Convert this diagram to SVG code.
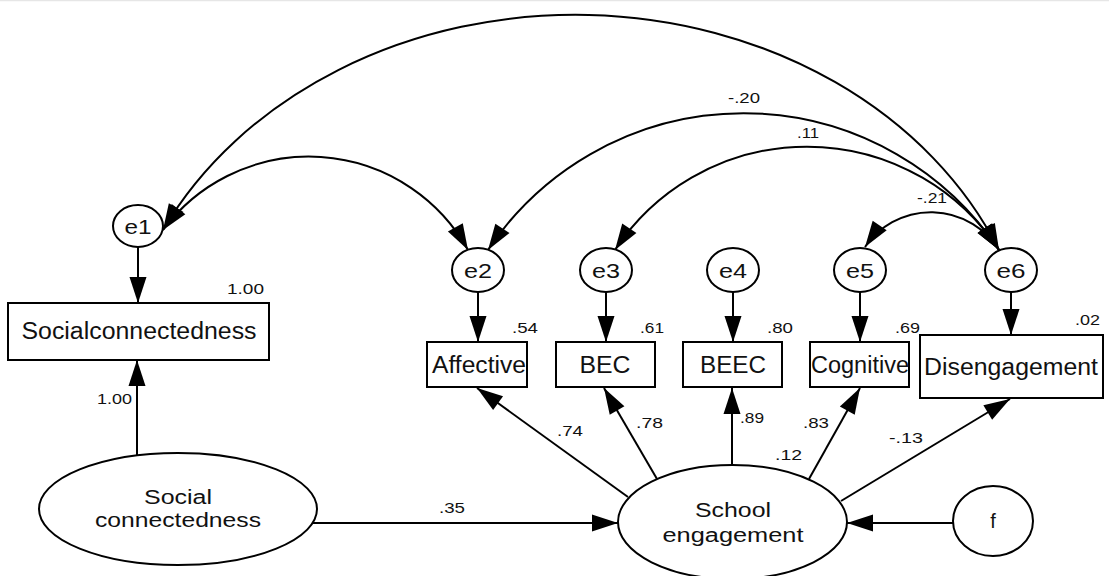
<svg xmlns="http://www.w3.org/2000/svg" width="1109" height="576" viewBox="0 0 1109 576">
  <defs>
    <marker id="arrow" markerUnits="userSpaceOnUse" markerWidth="26" markerHeight="17" refX="26" refY="8.5" orient="auto-start-reverse" overflow="visible">
      <path d="M0,0 L26,8.5 L0,17 Z" fill="#000"/>
    </marker>
    <style>
      .shape { fill: #fff; stroke: #000; stroke-width: 2; }
      .edge { fill: none; stroke: #000; stroke-width: 2; }
      .arr { marker-end: url(#arrow); }
      .both { marker-start: url(#arrow); marker-end: url(#arrow); }
      text { font-family: "Liberation Sans", Arial, sans-serif; fill: #111; }
      .big { font-size: 23px; text-anchor: middle; }
      .lat { font-size: 20px; text-anchor: middle; }
      .err { font-size: 21px; text-anchor: middle; }
      .num { font-size: 15.5px; }
    </style>
  </defs>
  <rect width="1109" height="576" fill="#fff"/>
  <line x1="0" y1="0.5" x2="1109" y2="0.5" stroke="#e6e6e6" stroke-width="1.5"/>

  <!-- connectors -->
  <g id="connectors">
    <!-- covariances -->
    <path class="edge both" d="M163,230 A460,386 0 0 1 999,250"/>
    <path class="edge both" d="M163,230 A182,182 0 0 1 468,250"/>
    <path class="edge both" d="M488,250 A307,307 0 0 1 999,250"/>
    <path class="edge both" d="M615,250 A230,230 0 0 1 999,250"/>
    <path class="edge both" d="M865,247 A80,80 0 0 1 999,250"/>
    <!-- error terms to indicators -->
    <line class="edge arr" x1="138" y1="247" x2="138" y2="303"/>
    <line class="edge arr" x1="478" y1="292" x2="478" y2="342"/>
    <line class="edge arr" x1="606" y1="292" x2="606" y2="342"/>
    <line class="edge arr" x1="733" y1="292" x2="733" y2="342"/>
    <line class="edge arr" x1="860" y1="292" x2="860" y2="342"/>
    <line class="edge arr" x1="1011" y1="292" x2="1011" y2="335"/>
    <!-- latent paths -->
    <line class="edge arr" x1="137" y1="455" x2="137" y2="360"/>
    <line class="edge arr" x1="313" y1="523" x2="618" y2="523"/>
    <line class="edge arr" x1="628" y1="497" x2="477" y2="388"/>
    <line class="edge arr" x1="657" y1="479" x2="604" y2="388"/>
    <line class="edge arr" x1="732" y1="465" x2="732" y2="388"/>
    <line class="edge arr" x1="809" y1="479" x2="860" y2="388"/>
    <line class="edge arr" x1="841" y1="501" x2="1010" y2="399"/>
    <line class="edge arr" x1="954" y1="523" x2="847" y2="523"/>

    <!-- coefficients -->
    <text class="num" x="728" y="103" textLength="32" lengthAdjust="spacingAndGlyphs">-.20</text>
    <text class="num" x="797" y="138" textLength="22" lengthAdjust="spacingAndGlyphs">.11</text>
    <text class="num" x="917" y="203" textLength="30" lengthAdjust="spacingAndGlyphs">-.21</text>
    <text class="num" x="97" y="404" textLength="35" lengthAdjust="spacingAndGlyphs">1.00</text>
    <text class="num" x="439" y="513" textLength="26" lengthAdjust="spacingAndGlyphs">.35</text>
    <text class="num" x="557" y="436" textLength="26" lengthAdjust="spacingAndGlyphs">.74</text>
    <text class="num" x="636" y="428" textLength="27" lengthAdjust="spacingAndGlyphs">.78</text>
    <text class="num" x="740" y="423" textLength="24" lengthAdjust="spacingAndGlyphs">.89</text>
    <text class="num" x="803" y="428" textLength="26" lengthAdjust="spacingAndGlyphs">.83</text>
    <text class="num" x="889" y="443" textLength="34" lengthAdjust="spacingAndGlyphs">-.13</text>
  </g>

  <!-- error terms -->
  <g id="e1"><ellipse class="shape" cx="138" cy="226" rx="25" ry="21"/><text class="err" x="138" y="234" textLength="27" lengthAdjust="spacingAndGlyphs">e1</text></g>
  <g id="e2"><ellipse class="shape" cx="478" cy="270" rx="26" ry="22"/><text class="err" x="478" y="278" textLength="28" lengthAdjust="spacingAndGlyphs">e2</text></g>
  <g id="e3"><ellipse class="shape" cx="606" cy="270" rx="26" ry="22"/><text class="err" x="606" y="278" textLength="28" lengthAdjust="spacingAndGlyphs">e3</text></g>
  <g id="e4"><ellipse class="shape" cx="733" cy="270" rx="26" ry="22"/><text class="err" x="733" y="278" textLength="28" lengthAdjust="spacingAndGlyphs">e4</text></g>
  <g id="e5"><ellipse class="shape" cx="860" cy="270" rx="26" ry="22"/><text class="err" x="860" y="278" textLength="28" lengthAdjust="spacingAndGlyphs">e5</text></g>
  <g id="e6"><ellipse class="shape" cx="1011" cy="270" rx="26" ry="22"/><text class="err" x="1011" y="278" textLength="29" lengthAdjust="spacingAndGlyphs">e6</text></g>

  <!-- observed indicators -->
  <g id="socialconnectedness-obs">
    <rect class="shape" x="8" y="303" width="261" height="57"/>
    <text class="big" x="139" y="339" textLength="235" lengthAdjust="spacingAndGlyphs">Socialconnectedness</text>
    <text class="num" x="227" y="294" textLength="37" lengthAdjust="spacingAndGlyphs">1.00</text>
  </g>
  <g id="affective">
    <rect class="shape" x="427" y="342" width="100" height="45"/>
    <text class="big" x="479" y="373" textLength="94" lengthAdjust="spacingAndGlyphs">Affective</text>
    <text class="num" x="512" y="333" textLength="26" lengthAdjust="spacingAndGlyphs">.54</text>
  </g>
  <g id="bec">
    <rect class="shape" x="556" y="342" width="99" height="45"/>
    <text class="big" x="605" y="373" textLength="51" lengthAdjust="spacingAndGlyphs">BEC</text>
    <text class="num" x="640" y="333" textLength="24" lengthAdjust="spacingAndGlyphs">.61</text>
  </g>
  <g id="beec">
    <rect class="shape" x="683" y="342" width="99" height="45"/>
    <text class="big" x="733" y="373" textLength="66" lengthAdjust="spacingAndGlyphs">BEEC</text>
    <text class="num" x="767" y="333" textLength="26" lengthAdjust="spacingAndGlyphs">.80</text>
  </g>
  <g id="cognitive">
    <rect class="shape" x="810" y="342" width="99" height="45"/>
    <text class="big" x="860" y="373" textLength="98" lengthAdjust="spacingAndGlyphs">Cognitive</text>
    <text class="num" x="895" y="333" textLength="25" lengthAdjust="spacingAndGlyphs">.69</text>
  </g>
  <g id="disengagement">
    <rect class="shape" x="920" y="335" width="183" height="63"/>
    <text class="big" x="1011" y="375" textLength="174" lengthAdjust="spacingAndGlyphs">Disengagement</text>
    <text class="num" x="1075" y="325" textLength="25" lengthAdjust="spacingAndGlyphs">.02</text>
  </g>

  <!-- latent variables -->
  <g id="social-connectedness">
    <ellipse class="shape" cx="178" cy="509" rx="139" ry="56"/>
    <text class="lat" x="178" y="504" textLength="68" lengthAdjust="spacingAndGlyphs">Social</text>
    <text class="lat" x="178" y="527" textLength="166" lengthAdjust="spacingAndGlyphs">connectedness</text>
  </g>
  <g id="school-engagement">
    <ellipse class="shape" cx="732.5" cy="522" rx="114.5" ry="57"/>
    <text class="lat" x="733" y="517" textLength="76" lengthAdjust="spacingAndGlyphs">School</text>
    <text class="lat" x="733" y="542" textLength="141" lengthAdjust="spacingAndGlyphs">engagement</text>
    <text class="num" x="775" y="460" textLength="27" lengthAdjust="spacingAndGlyphs">.12</text>
  </g>
  <g id="f">
    <ellipse class="shape" cx="993" cy="521" rx="40" ry="35"/>
    <text class="lat" x="993" y="528">f</text>
  </g>
</svg>
